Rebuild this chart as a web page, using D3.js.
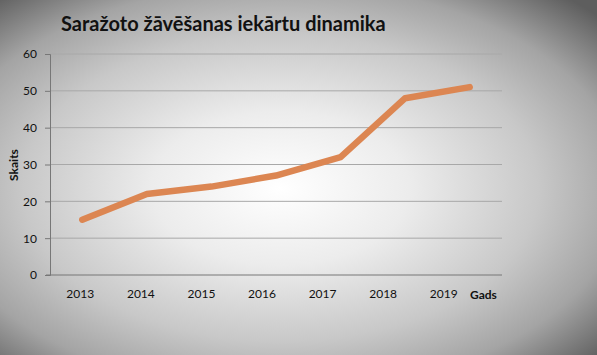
<!DOCTYPE html>
<html><head><meta charset="utf-8">
<script src="https://cdn.jsdelivr.net/npm/d3@7"></script>
<style>html,body{margin:0;padding:0;overflow:hidden;background:#fff}</style>
</head><body>
<script>
const categories = ["2013","2014","2015","2016","2017","2018","2019"];
const values = [15, 22, 24, 27, 32, 48, 51];
const yTicks = [0, 10, 20, 30, 40, 50, 60];
const title = "Saražoto žāvēšanas iekārtu dinamika";
const xTitle = "Gads";
const yTitle = "Skaits";

const W = 597, H = 355;
const m = {left: 50, right: 95, top: 54, bottom: 80};
const svg = d3.select("body").append("svg").attr("width", W).attr("height", H);
const defs = svg.append("defs");
const g0 = defs.append("radialGradient").attr("id","bg")
  .attr("cx",0.47).attr("cy",0.53).attr("r",0.72).attr("fx",0.47).attr("fy",0.53);
[[0,"#ffffff"],[0.3,"#ececec"],[0.6,"#c8c8c8"],[0.8,"#a4a4a4"],[1,"#5e5e5e"]].forEach(([o,c])=>
  g0.append("stop").attr("offset",o).attr("stop-color",c));
svg.append("rect").attr("width",W).attr("height",H).attr("fill","url(#bg)");

const font = "Lato, 'Open Sans', sans-serif";
const x = d3.scaleBand().domain(categories).range([m.left, W - m.right]);
const xLab = d3.scaleBand().domain(categories).range([m.left, 474]);
const y = d3.scaleLinear().domain([0, 60]).range([H - m.bottom, m.top]);

// gridlines
svg.append("g").selectAll("line").data(yTicks.slice(1)).join("line")
  .attr("x1", m.left).attr("x2", W - m.right)
  .attr("y1", d => y(d)).attr("y2", d => y(d))
  .attr("stroke", "#a8a8a8").attr("stroke-width", 1);

// y axis
const ya = svg.append("g").attr("transform", `translate(${m.left},0)`)
  .call(d3.axisLeft(y).tickValues(yTicks).tickSize(5).tickPadding(8));
ya.select(".domain").attr("stroke", "#777");
ya.selectAll(".tick line").attr("stroke", "#777");
ya.selectAll("text").attr("font-family", font).attr("font-size", 12).attr("fill", "#111");

// x axis
svg.append("line").attr("x1", m.left - 4).attr("x2", W - m.right)
  .attr("y1", y(0)).attr("y2", y(0)).attr("stroke", "#777");
const xa = svg.append("g").attr("transform", `translate(0,${y(0)})`)
  .call(d3.axisBottom(xLab).tickSize(0).tickPadding(14));
xa.select(".domain").remove();
xa.selectAll("text").attr("font-family", font).attr("font-size", 12).attr("fill", "#111");

// line
const line = d3.line().x((d,i) => x(categories[i]) + x.bandwidth()/2).y(d => y(d));
svg.append("path").datum(values).attr("d", line)
  .attr("fill","none").attr("stroke","#dc8652").attr("stroke-width",6.5)
  .attr("stroke-linecap","round").attr("stroke-linejoin","round");

// titles
svg.append("text").attr("x", 61).attr("y", 31).text(title)
  .attr("font-family", font).attr("font-weight", "bold").attr("font-size", 20).attr("fill", "#111");
svg.append("text").attr("x", 470).attr("y", 299).text(xTitle)
  .attr("font-family", font).attr("font-weight", "bold").attr("font-size", 12).attr("fill", "#111");
svg.append("text").attr("transform", "translate(18,165) rotate(-90)").attr("text-anchor","middle")
  .text(yTitle).attr("font-family", font).attr("font-weight", "bold").attr("font-size", 12).attr("fill", "#111");
</script>
</body></html>
